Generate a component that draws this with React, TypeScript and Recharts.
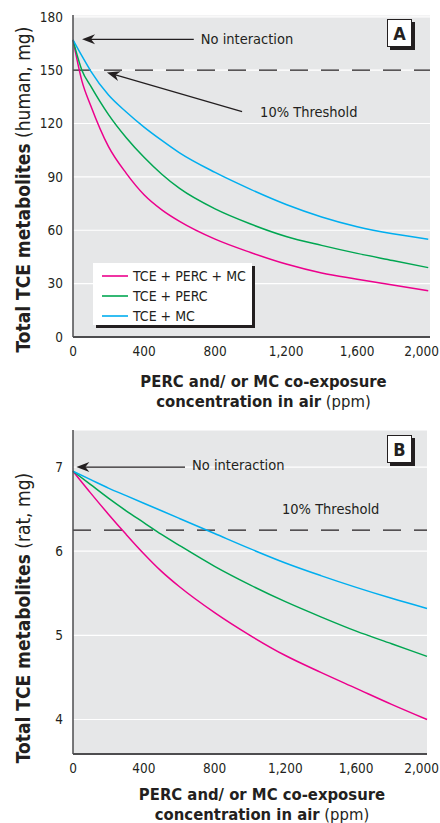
import React from 'react';
import { LineChart, Line, XAxis, YAxis, CartesianGrid, ReferenceLine } from 'recharts';

const FONT = '"Liberation Sans Narrow", "Arial Narrow", "DejaVu Sans Condensed", Roboto, sans-serif';
const INK = '#231f20';
const AXIS = '#4d4d4f';
const PLOT_BG = '#e6e7e8';

// human (panel A)
const humanPpm = [0, 50, 100, 200, 300, 400, 500, 600, 800, 1000, 1200, 1400, 1600, 1800, 2000];
const humanAll = [167, 144, 130, 107, 92, 80, 71.5, 65, 55, 47.5, 41, 36, 32.5, 29.2, 26];
const humanPerc = [167, 150, 141, 125, 112, 101, 91.5, 83.5, 72, 63.5, 56.5, 51.5, 47, 43, 39];
const humanMc = [167, 158, 149.5, 136, 126.5, 118, 110.5, 103.5, 92.5, 83, 74.5, 67.5, 62, 58, 55];
const humanTicks = [0, 30, 60, 90, 120, 150, 180];
const humanThreshold = 150;

// rat (panel B)
const ratPpm = [0, 100, 200, 300, 400, 500, 600, 800, 1000, 1200, 1400, 1600, 1800, 2000];
const ratAll = [6.95, 6.69, 6.44, 6.2, 5.97, 5.76, 5.58, 5.27, 5.0, 4.76, 4.56, 4.37, 4.18, 4.0];
const ratPerc = [6.95, 6.79, 6.63, 6.48, 6.34, 6.2, 6.07, 5.82, 5.6, 5.4, 5.22, 5.05, 4.9, 4.75];
const ratMc = [6.95, 6.85, 6.75, 6.66, 6.57, 6.48, 6.39, 6.21, 6.03, 5.86, 5.71, 5.57, 5.44, 5.32];
const ratTicks = [4, 5, 6, 7];
const ratThreshold = 6.25;

const ppmTicks = [0, 400, 800, 1200, 1600, 2000];

const series = [
  { key: 'all', name: 'TCE + PERC + MC', color: '#ec008c' },
  { key: 'perc', name: 'TCE + PERC', color: '#00a651' },
  { key: 'mc', name: 'TCE + MC', color: '#00aeef' },
];

const humanRows = humanPpm.map((ppm, i) => ({ ppm, all: humanAll[i], perc: humanPerc[i], mc: humanMc[i] }));
const ratRows = ratPpm.map((ppm, i) => ({ ppm, all: ratAll[i], perc: ratPerc[i], mc: ratMc[i] }));

// annotation arrows: tail first, tip second
const humanNoInteraction = [{ x: 680, y: 167.3 }, { x: 51, y: 167.3 }];
const humanThresholdArrow = [{ x: 952, y: 126.7 }, { x: 191, y: 148.7 }];
const ratNoInteraction = [{ x: 633, y: 7.0 }, { x: 19, y: 7.0 }];

const fmt = (v: number) => v.toLocaleString('en-US');

// last label sits flush with the right edge, like in the print
const PpmTick = ({ x, y, payload }: any) => {
  const last = payload.value === ppmTicks[ppmTicks.length - 1];
  return (
    <text
      x={last ? 439 : x} y={y} dy="0.71em" textAnchor={last ? 'end' : 'middle'}
      fill={INK} fontSize={13.5} fontFamily={FONT}
    >
      {fmt(payload.value)}
    </text>
  );
};

const ArrowShape = (props: any) => {
  const { x1, y1, x2, y2, text, dx = 0, dy = 0 } = props;
  const a = Math.atan2(y2 - y1, x2 - x1);
  const pt = (u: number, v: number) =>
    `${x2 + u * Math.cos(a) - v * Math.sin(a)},${y2 + u * Math.sin(a) + v * Math.cos(a)}`;
  return (
    <g>
      <line x1={x1} y1={y1} x2={x2 - 8 * Math.cos(a)} y2={y2 - 8 * Math.sin(a)} stroke={INK} strokeWidth={1.3} />
      <polygon points={[pt(0, 0), pt(-13, -5), pt(-9, 0), pt(-13, 5)].join(' ')} fill={INK} />
      {text && (
        <text x={x1 + dx} y={y1 + dy} fill={INK} fontSize={14.5} fontFamily={FONT}>
          {text}
        </text>
      )}
    </g>
  );
};

const ThresholdText = ({ viewBox, dx, dy }: any) => (
  <text x={viewBox.x + dx} y={viewBox.y + dy} fill={INK} fontSize={14.5} fontFamily={FONT}>
    10% Threshold
  </text>
);

const XTitle = ({ viewBox, b1, b2 }: any) => {
  const cx = viewBox.x + viewBox.width / 2 + 12;
  return (
    <text textAnchor="middle" fill={INK} fontFamily={FONT} fontSize={16.5}>
      <tspan x={cx} y={viewBox.y + b1} fontWeight="bold">PERC and/ or MC co-exposure</tspan>
      <tspan x={cx} y={viewBox.y + b2} fontWeight="bold">concentration in air</tspan>
      <tspan> (ppm)</tspan>
    </text>
  );
};

const YTitle = ({ viewBox, center, rest }: any) => {
  const x = 30;
  const y = viewBox.y + center;
  return (
    <text transform={`rotate(-90, ${x}, ${y})`} x={x} y={y} textAnchor="middle" fill={INK} fontFamily={FONT} fontSize={19}>
      <tspan fontWeight="bold">Total TCE metabolites</tspan>
      <tspan>{rest}</tspan>
    </text>
  );
};

const tickStyle = { fill: INK, fontSize: 13.5, fontFamily: FONT };

const PanelTag = ({ letter, left, top }: { letter: string; left: number; top: number }) => (
  <div
    style={{
      position: 'absolute', left, top, width: 25, height: 28, background: '#fff',
      border: `1px solid ${INK}`, boxShadow: `3px 3px 0 ${INK}`, boxSizing: 'border-box',
      font: `bold 18px ${FONT}`, color: INK, display: 'flex', alignItems: 'center', justifyContent: 'center',
    }}
  >
    {letter}
  </div>
);

const LegendBox = () => (
  <div
    style={{
      position: 'absolute', left: 93, top: 263, width: 159, height: 62, background: '#fff',
      boxShadow: `3px 3px 0 ${INK}`,
    }}
  >
    {series.map((s, i) => (
      <div key={s.key} style={{ position: 'absolute', left: 9, top: 3 + i * 20, height: 20, display: 'flex', alignItems: 'center' }}>
        <svg width={26} height={4} style={{ display: 'block' }}>
          <line x1={0} y1={2} x2={26} y2={2} stroke={s.color} strokeWidth={1.6} />
        </svg>
        <span style={{ marginLeft: 5, font: `14px ${FONT}`, color: INK, whiteSpace: 'nowrap' }}>{s.name}</span>
      </div>
    ))}
  </div>
);

const renderLines = () =>
  series.map((s) => (
    <Line key={s.key} type="monotone" dataKey={s.key} name={s.name} stroke={s.color} strokeWidth={1.5} dot={false} isAnimationActive={false} />
  ));

export default function App() {
  return (
    <div style={{ position: 'relative', width: 440, height: 823, background: '#fff', overflow: 'hidden' }}>
      <style>{'body{margin:0}'}</style>

      <div style={{ position: 'absolute', left: 0, top: 0 }}>
        <LineChart width={440} height={420} data={humanRows} margin={{ top: 15, right: 10, left: 0, bottom: 0 }}>
          <CartesianGrid vertical={false} fill={PLOT_BG} stroke="#fff" strokeWidth={1.2} />
          <XAxis
            dataKey="ppm" type="number" domain={[0, 2010]} ticks={ppmTicks} height={83}
            tickSize={0} tickMargin={9} tick={<PpmTick />} axisLine={{ stroke: AXIS, strokeWidth: 2 }}
            label={<XTitle b1={50} b2={70} />}
          />
          <YAxis
            type="number" domain={[0, 181]} ticks={humanTicks} width={73} tickSize={0} tickMargin={10}
            tick={tickStyle} axisLine={{ stroke: AXIS, strokeWidth: 1.5 }}
            label={<YTitle center={174.5} rest=" (human, mg)" />}
          />
          <ReferenceLine y={humanThreshold} stroke={INK} strokeWidth={1.3} strokeDasharray="18 13" />
          {renderLines()}
          <ReferenceLine segment={humanNoInteraction} shape={<ArrowShape text="No interaction" dx={7} dy={5} />} />
          <ReferenceLine segment={humanThresholdArrow} shape={<ArrowShape text="10% Threshold" dx={18} dy={5.5} />} />
        </LineChart>
      </div>

      <div style={{ position: 'absolute', left: 0, top: 420 }}>
        <LineChart width={440} height={403} data={ratRows} margin={{ top: 10, right: 13, left: 0, bottom: 0 }}>
          <CartesianGrid vertical={false} fill={PLOT_BG} stroke="#fff" strokeWidth={1.2} />
          <XAxis
            dataKey="ppm" type="number" domain={[0, 2000]} ticks={ppmTicks} height={69}
            tickSize={0} tickMargin={9} tick={<PpmTick />} axisLine={{ stroke: AXIS, strokeWidth: 2 }}
            label={<XTitle b1={46} b2={66} />}
          />
          <YAxis
            type="number" domain={[3.59, 7.44]} ticks={ratTicks} width={73} tickSize={0} tickMargin={10}
            tick={tickStyle} axisLine={{ stroke: AXIS, strokeWidth: 1.5 }}
            label={<YTitle center={188} rest=" (rat, mg)" />}
          />
          <ReferenceLine y={ratThreshold} stroke={INK} strokeWidth={1.3} strokeDasharray="18 13" label={<ThresholdText dx={209} dy={-16} />} />
          {renderLines()}
          <ReferenceLine segment={ratNoInteraction} shape={<ArrowShape text="No interaction" dx={7} dy={3} />} />
        </LineChart>
      </div>

      <LegendBox />
      <PanelTag letter="A" left={387} top={19} />
      <PanelTag letter="B" left={387} top={435} />
    </div>
  );
}
